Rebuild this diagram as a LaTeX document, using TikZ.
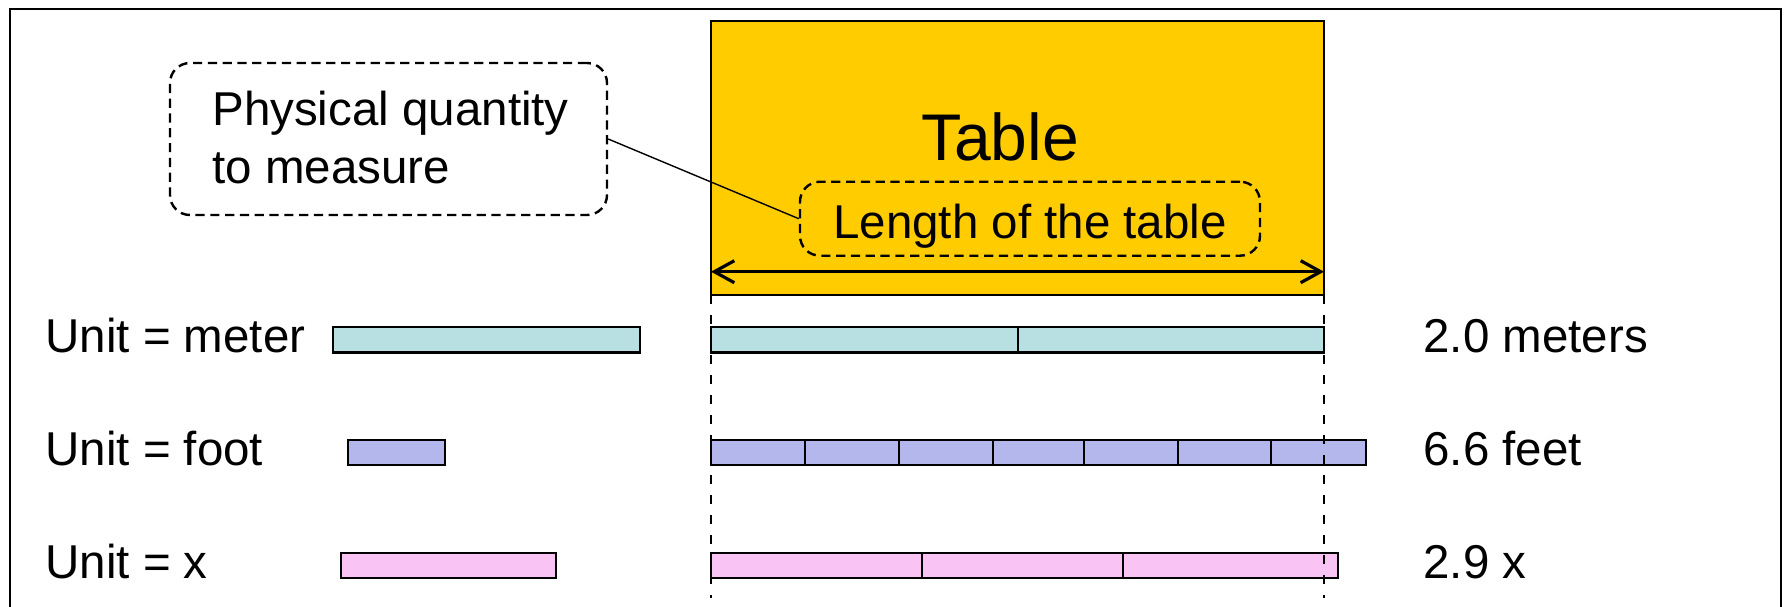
\documentclass[tikz,border=0pt]{standalone}
\usepackage{fontspec}
\setmainfont{Liberation Sans}
\usetikzlibrary{arrows.meta}
\definecolor{tableyellow}{HTML}{FFCC00}
\definecolor{meterfill}{HTML}{B8E0E3}
\definecolor{footfill}{HTML}{B3B7EB}
\definecolor{xfill}{HTML}{F9C3F3}

\begin{document}
\begin{tikzpicture}[x=0.5pt,y=-0.5pt,
  lbl/.style={anchor=base west, inner sep=0pt, font=\fontsize{23.75}{28}\selectfont},
  bar/.style={draw=black, line width=1.25pt},
  divider/.style={line width=1pt},
  dashbox/.style={draw, dash pattern=on 4.6pt off 2.8pt, line width=1.2pt, rounded corners=10pt, inner sep=0pt},
  guide/.style={dash pattern=on 4.5pt off 5.5pt, line width=1.2pt},
  dimarrow/.style={{Straight Barb[length=10pt,width=11pt]}-{Straight Barb[length=10pt,width=11pt]}, line width=1.6pt}]
\useasboundingbox (0,0) rectangle (1785,606);
\clip (0,0) rectangle (1785,606);

% outer frame
\draw[line width=1.1pt] (10,640) -- (10,9) -- (1781,9) -- (1781,640);

% the table
\draw[fill=tableyellow, line width=1.1pt] (711,21) rectangle (1324,295);
\node[anchor=base, inner sep=0pt, font=\fontsize{33}{40}\selectfont] (tablelabel) at (1000,160) {Table};

% quantity box inside the table
\node[dashbox, minimum width=230pt, minimum height=37pt] (lenbox) at (1030,218.7) {};
\node[lbl, anchor=base] (lentext) at (1030,238) {Length of the table};

% dimension arrow across the table
\coordinate (arrL) at (711,271.7);
\coordinate (arrR) at (1324,271.7);
\draw[dimarrow] (arrL) -- (arrR);

% callout
\node[dashbox, minimum width=218.5pt, minimum height=76pt] (callout) at (388.5,139) {};
\node[lbl] (callA) at (212,125) {Physical quantity};
\node[lbl] (callB) at (212,183) {to measure};
\draw[line width=0.7pt] (callout.east) -- (lenbox.west);

% row 1: meter
\node[lbl] (unitm) at (45,352) {Unit = meter};
\draw[bar, fill=meterfill] (333,327) rectangle (640,352.5);
\draw[bar, fill=meterfill] (711,327) rectangle (1324,352.5);
\draw[divider] (1017.5,327) -- (1017.5,352.5);
\node[lbl] (resm) at (1423,352) {2.0 meters};

% row 2: foot
\node[lbl] (unitf) at (45,465) {Unit = foot};
\draw[bar, fill=footfill] (348,440) rectangle (445,465);
\draw[bar, fill=footfill] (711,440) rectangle (1366,465);
\foreach \xx in {805,899,993,1084,1178,1271}
  \draw[divider] (\xx,440) -- (\xx,465);
\node[lbl] (resf) at (1423,465) {6.6 feet};

% row 3: x
\node[lbl] (unitx) at (45,578) {Unit = x};
\draw[bar, fill=xfill] (341,553) rectangle (556,578);
\draw[bar, fill=xfill] (711,553) rectangle (1338,578);
\foreach \xx in {922,1123}
  \draw[divider] (\xx,553) -- (\xx,578);
\node[lbl] (resx) at (1423,578) {2.9 x};

% guides from the table edges
\coordinate (gL1) at (711,295);
\coordinate (gL2) at (711,598);
\coordinate (gR1) at (1324,295);
\coordinate (gR2) at (1324,598);
\draw[guide] (gL1) -- (gL2);
\draw[guide] (gR1) -- (gR2);
\end{tikzpicture}
\end{document}
